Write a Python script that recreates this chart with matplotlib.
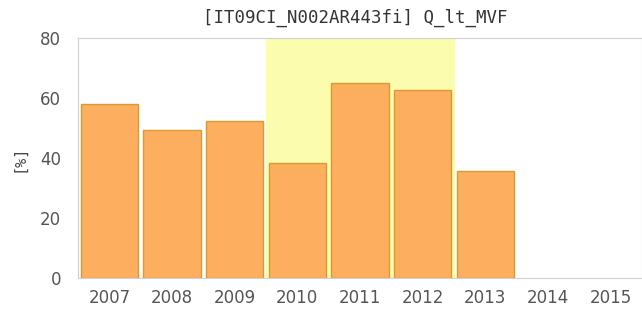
import numpy as np
import matplotlib
matplotlib.use("Agg")
import matplotlib.pyplot as plt

years = ['2007', '2008', '2009', '2010', '2011', '2012', '2013', '2014', '2015']
values = [58.0, 49.2, 52.2, 38.2, 65.0, 62.7, 35.8, np.nan, np.nan]
highlight = ['2010', '2011', '2012']
title = '[IT09CI_N002AR443fi] Q_lt_MVF'
ylabel = '[%]'

fig = plt.figure(figsize=(6.42, 3.15), dpi=100)
ax = fig.add_axes([78 / 642, 37 / 315, 1 - 78 / 642, 240 / 315])

x = np.arange(len(years))
i0 = years.index(highlight[0])
i1 = years.index(highlight[-1])
ax.axvspan(i0 - 0.5, i1 + 0.5, color='#fcfcae', zorder=0)

ax.bar(x, values, width=0.91, color='#fdaf5f', edgecolor='#d69c30', linewidth=1.0, zorder=2)

ax.set_xlim(-0.5, len(years) - 0.5)
ax.set_ylim(0, 80)
ax.set_yticks([0, 20, 40, 60, 80])
ax.set_xticks(x)
ax.set_xticklabels(years)
ax.tick_params(length=0, labelsize=12, colors='#555555', pad=8)
ax.tick_params(axis='y', pad=12)

for s in ax.spines.values():
    s.set_color('#d0d0d0')

ax.set_title(title, fontsize=12.5, family='DejaVu Sans Mono', color='#333333', pad=11, x=0.491)
ax.set_ylabel(ylabel, fontsize=11, family='DejaVu Sans Mono', color='#444444', labelpad=10)

fig.savefig('out.png', dpi=100)
